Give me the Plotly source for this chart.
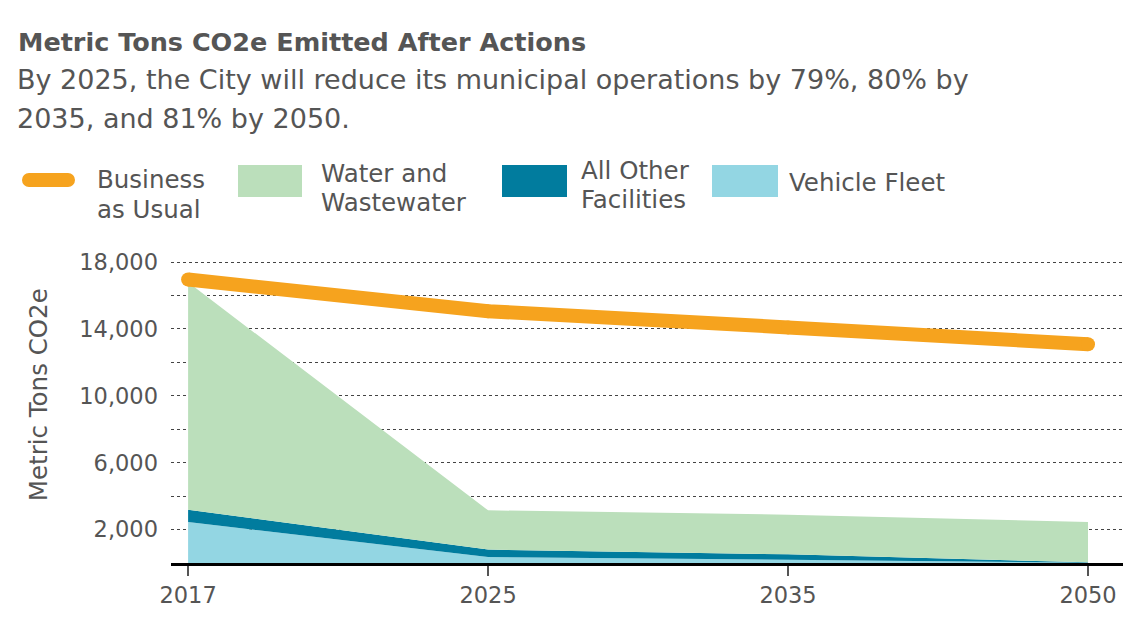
import plotly.graph_objects as go

# ── data ─────────────────────────────────────────────────────────────────────
years = ["2017", "2025", "2035", "2050"]
business_as_usual = [16950, 15060, 14090, 13080]
vehicle_fleet = [2450, 360, 200, 20]
all_other_facilities = [740, 440, 320, 20]
water_wastewater = [13600, 2350, 2370, 2410]

y_tick_vals = [2000, 6000, 10000, 14000, 18000]
y_minor_vals = [4000, 8000, 12000, 16000]

title = "Metric Tons CO2e Emitted After Actions"
subtitle_lines = [
    "By 2025, the City will reduce its municipal operations by 79%, 80% by",
    "2035, and 81% by 2050.",
]

ORANGE = "#F6A31E"
GREEN = "#BBDFBB"
TEAL = "#017C9E"
LIGHT_BLUE = "#93D6E3"
TEXT = "#555555"
FONT = "DejaVu Sans"

# ── page geometry ────────────────────────────────────────────────────────────
# the html body has an 8px margin, so page pixel = figure pixel + 8
OFF = 8
W, H = 1131 - 2 * OFF, 625 - 2 * OFF
L = 171 - OFF
R = 0
T = 257 - OFF
B = H - (562.7 - OFF)
PW, PH = W - L - R, H - T - B


def px(x):
    """page x (as measured on the reference) -> paper x"""
    return (x - OFF - L) / PW


def py(y):
    """page y -> paper y"""
    return (H - B - (y - OFF)) / PH


fig = go.Figure()

# stacked areas, bottom to top
for name, vals, color in [
    ("Vehicle Fleet", vehicle_fleet, LIGHT_BLUE),
    ("All Other Facilities", all_other_facilities, TEAL),
    ("Water and Wastewater", water_wastewater, GREEN),
]:
    fig.add_trace(go.Scatter(
        x=years, y=vals, name=name,
        mode="lines", stackgroup="one",
        line=dict(width=0, color=color),
        fillcolor=color,
        showlegend=False,
    ))

fig.add_trace(go.Scatter(
    x=years, y=business_as_usual, name="Business as Usual",
    mode="lines+markers",
    line=dict(color=ORANGE, width=14),
    marker=dict(color=ORANGE, size=14, line=dict(width=0)),
    showlegend=False,
))

# ── custom legend ────────────────────────────────────────────────────────────
shapes = []
annotations = []

# orange pill
shapes.append(dict(type="line", xref="paper", yref="paper",
                   x0=px(29), x1=px(68), y0=py(180), y1=py(180),
                   line=dict(color=ORANGE, width=14)))
for cx in (29, 68):
    shapes.append(dict(type="circle", xref="paper", yref="paper",
                       x0=px(cx - 7), x1=px(cx + 7), y0=py(187), y1=py(173),
                       fillcolor=ORANGE, line=dict(width=0)))

for x0, x1, color in [(238, 302, GREEN), (502, 567, TEAL), (712, 778, LIGHT_BLUE)]:
    shapes.append(dict(type="rect", xref="paper", yref="paper",
                       x0=px(x0), x1=px(x1), y0=py(197), y1=py(165),
                       fillcolor=color, line=dict(width=0)))

legend_texts = [
    (95, 180, "Business"), (95, 210, "as Usual"),
    (319, 174, "Water and"), (319, 203, "Wastewater"),
    (579, 171, "All Other"), (579, 200, "Facilities"),
    (787, 183, "Vehicle Fleet"),
]
for x, y, txt in legend_texts:
    annotations.append(dict(text=txt, xref="paper", yref="paper",
                            x=px(x), y=py(y), xanchor="left", yanchor="middle",
                            showarrow=False, font=dict(size=24.5, color=TEXT, family=FONT)))

# title + subtitle
annotations.append(dict(text=f"<b>{title}</b>", xref="paper", yref="paper",
                        x=px(16), y=py(42), xanchor="left", yanchor="middle",
                        showarrow=False, font=dict(size=25.5, color=TEXT, family=FONT)))
for i, line in enumerate(subtitle_lines):
    annotations.append(dict(text=line, xref="paper", yref="paper",
                            x=px(15), y=py(80 + 39 * i), xanchor="left", yanchor="middle",
                            showarrow=False, font=dict(size=27, color=TEXT, family=FONT)))

# y-axis title
annotations.append(dict(text="Metric Tons CO2e", xref="paper", yref="paper",
                        x=px(38), y=py(395), textangle=-90,
                        xanchor="center", yanchor="middle",
                        showarrow=False, font=dict(size=24.5, color=TEXT, family=FONT)))

fig.update_layout(
    width=W, height=H,
    margin=dict(l=L, r=R, t=T, b=B),
    paper_bgcolor="white",
    plot_bgcolor="white",
    font=dict(family=FONT, color=TEXT, size=22),
    shapes=shapes,
    annotations=annotations,
    showlegend=False,
)

fig.update_xaxes(
    type="category",
    range=[-0.057, (1123 - 188) / 300],
    showline=True, linecolor="black", linewidth=3,
    ticks="outside", ticklen=10, tickwidth=2, tickcolor="#555555",
    showgrid=False, zeroline=False,
    tickfont=dict(size=22.5, color=TEXT),
)

fig.update_yaxes(
    range=[0, 18300],
    tickvals=y_tick_vals,
    tickformat=",",
    tickfont=dict(size=22.5, color=TEXT),
    ticks="", ticklabelstandoff=12,
    showgrid=True, gridcolor="#444444", gridwidth=1, griddash="dot",
    minor=dict(tickvals=y_minor_vals, showgrid=True, gridcolor="#444444",
               gridwidth=1, griddash="dot"),
    zeroline=False, showline=False,
)

fig.write_html("out.html")
